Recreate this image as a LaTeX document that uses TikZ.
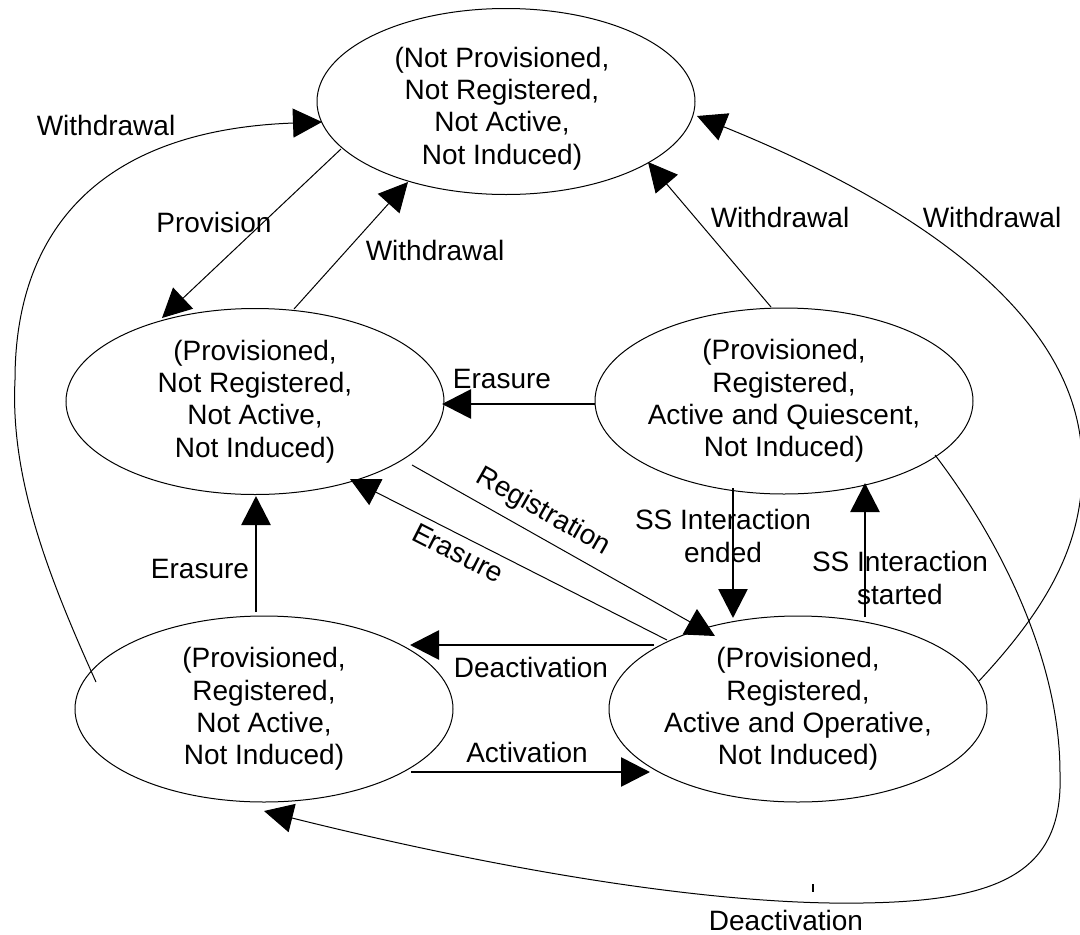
\documentclass[tikz,border=0pt]{standalone}
\usepackage{fontspec}
\setmainfont{Liberation Sans}
\usetikzlibrary{arrows.meta,shapes.geometric,calc}
\begin{document}
\begin{tikzpicture}[x=1pt,y=-1pt,
  txt/.style={font=\fontsize{28}{32.3}\selectfont},
  state/.style={draw,ellipse,line width=1pt,minimum width=378pt,minimum height=186pt,inner sep=-40pt,align=center,txt},
  lbl/.style={inner sep=0pt,align=center,txt},
  conn/.style={line width=1pt,-{Triangle[length=29pt,width=29pt]}},
  boldconn/.style={line width=2.7pt,-{Triangle[length=29pt,width=29pt]}}
]
\fill[white] (0,0) rectangle (1080,935);
\useasboundingbox (0,0) rectangle (1080,935);

% states
\node[state] (t) at (506,101.5) {};
\node[lbl] (ttext) at (502,108.5) {(Not Provisioned,\\Not Registered,\\Not Active,\\Not Induced)};
\node[state] (l) at (255,401.5) {(Provisioned,\\Not Registered,\\Not Active,\\Not Induced)};
\node[state] (q) at (784,401) {(Provisioned,\\Registered,\\Active and Quiescent,\\Not Induced)};
\node[state] (bl) at (264,709) {(Provisioned,\\Registered,\\Not Active,\\Not Induced)};
\node[state] (br) at (798,709) {(Provisioned,\\Registered,\\Active and Operative,\\Not Induced)};

% connectors
\draw[conn] ($(bl)+(-168,-27)$) .. controls (50,580) and (10,480) .. (15,380)
  .. controls (15,230) and (100,130) .. ($(t)+(-184,20.5)$);
\draw[conn] ($(t)+(-165,47.5)$) -- ($(l)+(-93,-83.5)$);
\draw[conn] ($(l)+(39,-92.5)$) -- ($(t)+(-98,80.5)$);
\draw[conn] ($(q)+(-13,-94)$) -- ($(t)+(142,60.5)$);
\draw[conn] ($(br)+(181,-28)$) .. controls (1050,605) and (1085,540) .. (1082,460)
  .. controls (1079,300) and (880,190) .. ($(t)+(191,14.5)$);
\draw[boldconn] ($(q)+(-189,3)$) -- ($(l)+(187,2.5)$);
\draw[conn] ($(l)+(157,63.5)$) -- ($(br)+(-83,-73)$);
\draw[conn] ($(br)+(-131,-69)$) -- ($(l)+(95,77.5)$);
\draw[boldconn] ($(bl)+(-8,-97)$) -- ($(l)+(1,94.5)$);
\draw[boldconn] ($(br)+(-144,-64)$) -- ($(bl)+(146,-64)$);
\draw[boldconn] ($(bl)+(147,63)$) -- ($(br)+(-148,63)$);
\draw[boldconn] ($(q)+(-51,87)$) -- ($(br)+(-65,-91)$);
\draw[boldconn] ($(br)+(67,-92)$) -- ($(q)+(81,82)$);
\draw[conn] ($(q)+(151,54)$) .. controls (1000,540) and (1060,660) .. (1060,773)
  .. controls (1064,880) and (990,905) .. (830,903)
  .. controls (650,900) and (420,850) .. ($(bl)+(0,102)$);
\draw[line width=2pt] (813,884) -- (813,892);

% labels
\node[lbl] (w1) at (106,125) {Withdrawal};
\node[lbl] (prov) at (214,222) {Provision};
\node[lbl] (w2) at (435,250) {Withdrawal};
\node[lbl] (w3) at (780,217) {Withdrawal};
\node[lbl] (w4) at (992,217) {Withdrawal};
\node[lbl] (er1) at (502,379) {Erasure};
\node[lbl,rotate=-29.5] (reg) at (543,512) {Registration};
\node[lbl,rotate=-27] (er2) at (458,553) {Erasure};
\node[lbl] (er3) at (200,569) {Erasure};
\node[lbl] (de1) at (531,667) {Deactivation};
\node[lbl] (act) at (527,752) {Activation};
\node[lbl] (sse) at (723,536) {SS Interaction\\ended};
\node[lbl] (sss) at (900,578) {SS Interaction\\started};
\node[lbl] (de2) at (786,920) {Deactivation};
\end{tikzpicture}
\end{document}
